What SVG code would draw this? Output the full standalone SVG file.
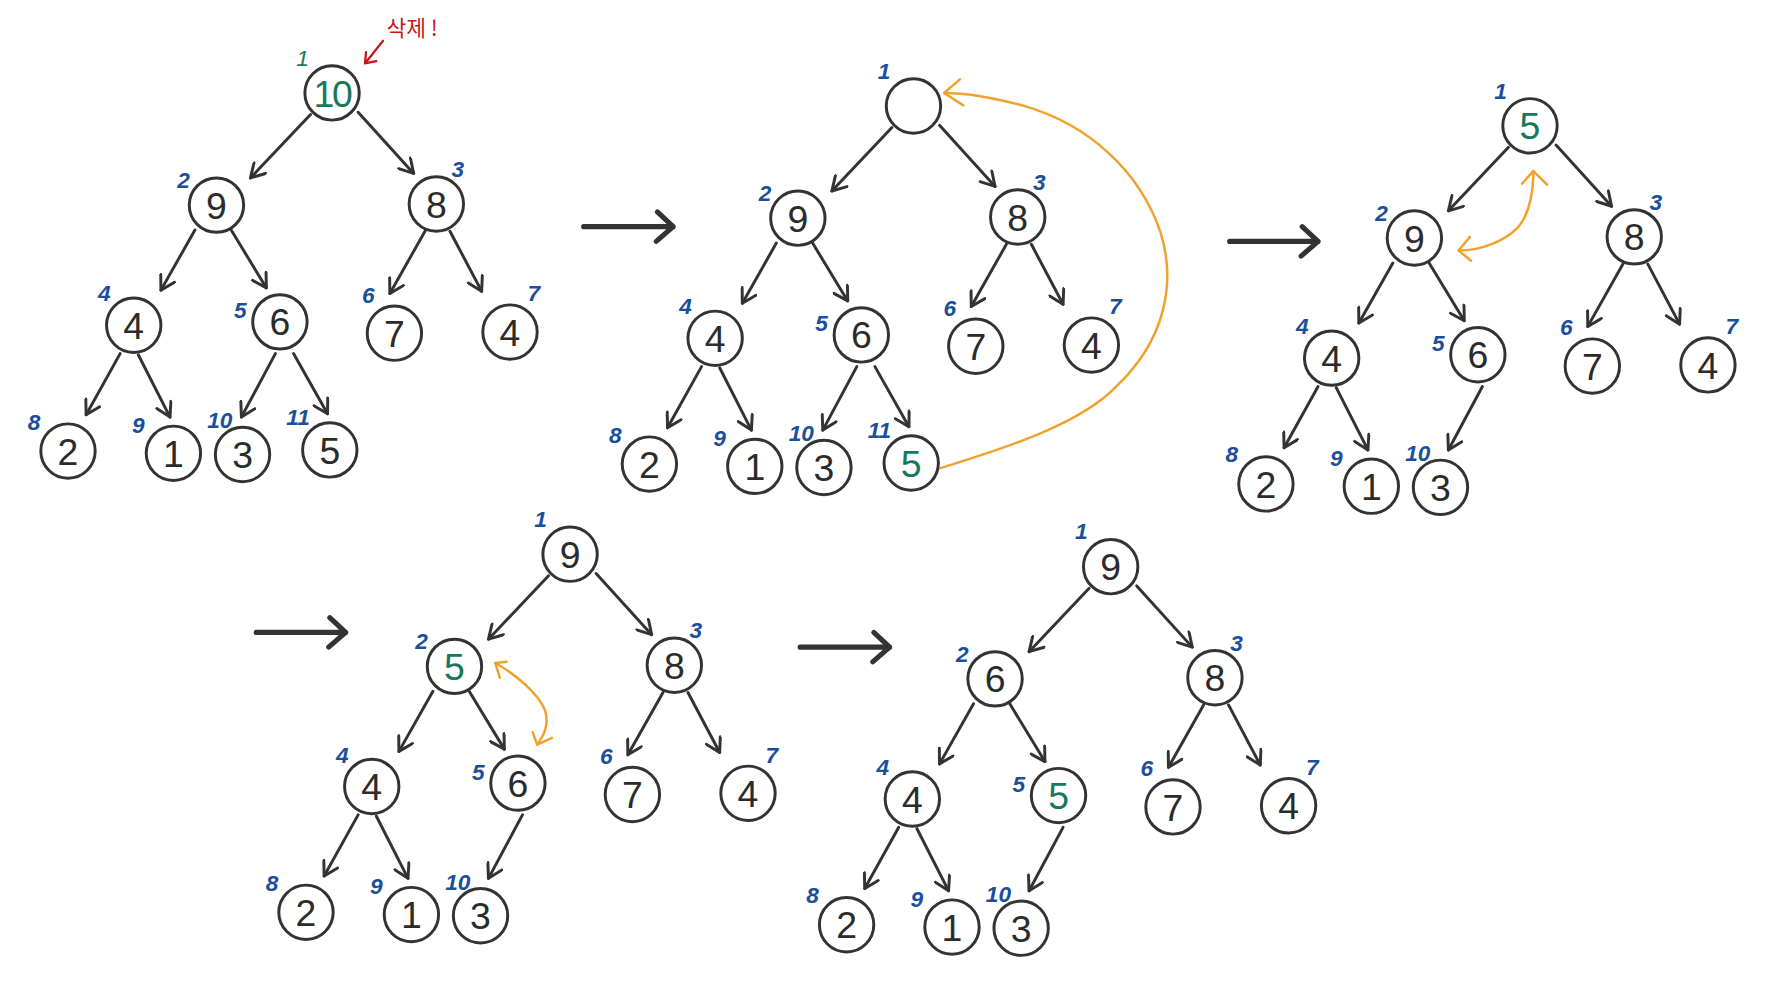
<svg xmlns="http://www.w3.org/2000/svg" width="1768" height="1000" viewBox="0 0 1768 1000">
<defs>
<style>
.nd{fill:#fff;stroke:#333;stroke-width:2.6}
.v{font-family:"Liberation Sans","DejaVu Sans",sans-serif;font-size:33px;fill:#2b2b2b;text-anchor:middle}
.gr{fill:#17785a}
.ix{font-family:"Liberation Sans","DejaVu Sans",sans-serif;font-style:italic;font-weight:bold;font-size:20px;fill:#1b4f9c;text-anchor:middle}
.ixg{fill:#17785a;font-weight:normal}
.e{stroke:#333;stroke-width:2.6;fill:none;marker-end:url(#ah);stroke-linecap:round}
.big{stroke:#333;stroke-width:4.5;fill:none;stroke-linecap:round;stroke-linejoin:round}
.or{stroke:#f0a22e;stroke-width:2.2;fill:none;stroke-linecap:round;stroke-linejoin:round}
.red{stroke:#c8161d;stroke-width:2;fill:none;stroke-linecap:round;stroke-linejoin:round}
</style>
<marker id="ah" viewBox="0 0 16 16" refX="14" refY="8" markerWidth="16" markerHeight="16" orient="auto" markerUnits="userSpaceOnUse">
<path d="M2,1 L14,8 L2,15" fill="none" stroke="#333" stroke-width="2.6" stroke-linecap="round" stroke-linejoin="round"/>
</marker>
</defs>
<rect width="1768" height="1000" fill="#fff"/>
<g transform="scale(1.13333)">
<g id="connectors">
<g id="edges-t1">
<line class="e" x1="274" y1="101" x2="221" y2="157"/>
<line class="e" x1="316" y1="99" x2="365" y2="153"/>
<line class="e" x1="172" y1="203" x2="142" y2="256"/>
<line class="e" x1="204" y1="203" x2="235" y2="254"/>
<line class="e" x1="375" y1="204" x2="344" y2="259"/>
<line class="e" x1="397" y1="204" x2="425" y2="257"/>
<line class="e" x1="106" y1="312" x2="76" y2="366"/>
<line class="e" x1="122" y1="313" x2="150" y2="368"/>
<line class="e" x1="243" y1="312" x2="213" y2="368"/>
<line class="e" x1="259" y1="312" x2="289" y2="365"/>
</g>
<g id="edges-t2" transform="translate(513,11.5)">
<line class="e" x1="274" y1="101" x2="221" y2="157"/>
<line class="e" x1="316" y1="99" x2="365" y2="153"/>
<line class="e" x1="172" y1="203" x2="142" y2="256"/>
<line class="e" x1="204" y1="203" x2="235" y2="254"/>
<line class="e" x1="375" y1="204" x2="344" y2="259"/>
<line class="e" x1="397" y1="204" x2="425" y2="257"/>
<line class="e" x1="106" y1="312" x2="76" y2="366"/>
<line class="e" x1="122" y1="313" x2="150" y2="368"/>
<line class="e" x1="243" y1="312" x2="213" y2="368"/>
<line class="e" x1="259" y1="312" x2="289" y2="365"/>
</g>
<g id="edges-t3" transform="translate(1057,29)">
<line class="e" x1="274" y1="101" x2="221" y2="157"/>
<line class="e" x1="316" y1="99" x2="365" y2="153"/>
<line class="e" x1="172" y1="203" x2="142" y2="256"/>
<line class="e" x1="204" y1="203" x2="235" y2="254"/>
<line class="e" x1="375" y1="204" x2="344" y2="259"/>
<line class="e" x1="397" y1="204" x2="425" y2="257"/>
<line class="e" x1="106" y1="312" x2="76" y2="366"/>
<line class="e" x1="122" y1="313" x2="150" y2="368"/>
<line class="e" x1="251" y1="312" x2="221" y2="368"/>
</g>
<g id="edges-t4" transform="translate(210,407)">
<line class="e" x1="274" y1="101" x2="221" y2="157"/>
<line class="e" x1="316" y1="99" x2="365" y2="153"/>
<line class="e" x1="172" y1="203" x2="142" y2="256"/>
<line class="e" x1="204" y1="203" x2="235" y2="254"/>
<line class="e" x1="375" y1="204" x2="344" y2="259"/>
<line class="e" x1="397" y1="204" x2="425" y2="257"/>
<line class="e" x1="106" y1="312" x2="76" y2="366"/>
<line class="e" x1="122" y1="313" x2="150" y2="368"/>
<line class="e" x1="251" y1="312" x2="221" y2="368"/>
</g>
<g id="edges-t5" transform="translate(687,418)">
<line class="e" x1="274" y1="101" x2="221" y2="157"/>
<line class="e" x1="316" y1="99" x2="365" y2="153"/>
<line class="e" x1="172" y1="203" x2="142" y2="256"/>
<line class="e" x1="204" y1="203" x2="235" y2="254"/>
<line class="e" x1="375" y1="204" x2="344" y2="259"/>
<line class="e" x1="397" y1="204" x2="425" y2="257"/>
<line class="e" x1="106" y1="312" x2="76" y2="366"/>
<line class="e" x1="122" y1="313" x2="150" y2="368"/>
<line class="e" x1="251" y1="312" x2="221" y2="368"/>
</g>
<g id="step-arrows">
<path class="big" d="M515,200 H594 M580,187 L594,200 L579,213"/>
<path class="big" d="M1085,213 H1163 M1149,200 L1163,213 L1148,226"/>
<path class="big" d="M226,558 H305 M291,545 L305,558 L290,571"/>
<path class="big" d="M706,571 H785 M771,558 L785,571 L770,584"/>
</g>
<g id="swap-arrows">
<path class="or" d="M830,413 C870,400 950,378 985,341 C1028,300 1038,250 1024,205 C1006,152 962,110 902,93 C872,85 848,82 833,82"/>
<path class="or" d="M847,70 L833,82 L850,93"/>
<path class="or" d="M1287,221 C1308,221 1328,212 1339,201 C1350,189 1353,167 1353,151"/>
<path class="or" d="M1343,162 L1353,151 L1365,163 M1297,209 L1287,221 L1298,230"/>
<path class="or" d="M437,585 C455,595 475,612 481,627 C485,640 479,650 474,657"/>
<path class="or" d="M447,584 L437,585 L441,598 M470,646 L474,657 L487,651"/>
</g>
<g id="delete-note-arrow">
<path class="red" d="M338,36 L322,56 M323,46 L322,56 L332,54"/>
</g>
</g>

<g id="tree1">
<g id="t1n1"><circle class="nd" cx="293" cy="82" r="24"/><text class="v gr" x="293" y="94" style="letter-spacing:-2px">10</text><text class="ix ixg" x="267" y="58">1</text></g>
<g id="t1n2"><circle class="nd" cx="191" cy="181" r="24"/><text class="v" x="191" y="193">9</text><text class="ix" x="162" y="166">2</text></g>
<g id="t1n3"><circle class="nd" cx="385" cy="180" r="24"/><text class="v" x="385" y="192">8</text><text class="ix" x="404" y="156">3</text></g>
<g id="t1n4"><circle class="nd" cx="118" cy="287" r="24"/><text class="v" x="118" y="299">4</text><text class="ix" x="92" y="266">4</text></g>
<g id="t1n5"><circle class="nd" cx="247" cy="284" r="24"/><text class="v" x="247" y="296">6</text><text class="ix" x="212" y="281">5</text></g>
<g id="t1n6"><circle class="nd" cx="348" cy="294" r="24"/><text class="v" x="348" y="306">7</text><text class="ix" x="325" y="267">6</text></g>
<g id="t1n7"><circle class="nd" cx="450" cy="293" r="24"/><text class="v" x="450" y="305">4</text><text class="ix" x="471" y="266">7</text></g>
<g id="t1n8"><circle class="nd" cx="60" cy="398" r="24"/><text class="v" x="60" y="410">2</text><text class="ix" x="30" y="379">8</text></g>
<g id="t1n9"><circle class="nd" cx="153" cy="400" r="24"/><text class="v" x="153" y="412">1</text><text class="ix" x="122" y="382">9</text></g>
<g id="t1n10"><circle class="nd" cx="214" cy="401" r="24"/><text class="v" x="214" y="413">3</text><text class="ix" x="194" y="378">10</text></g>
<g id="t1n11"><circle class="nd" cx="291" cy="397" r="24"/><text class="v" x="291" y="409">5</text><text class="ix" x="263" y="375">11</text></g>
<text id="delete-note" x="341" y="32" style="font-family:'Noto Sans CJK KR','Noto Sans',sans-serif;font-size:19px;fill:#c8161d">삭제 !</text>
</g>

<g id="tree2" transform="translate(513,11.5)">
<g id="t2n1"><circle class="nd" cx="293" cy="82" r="24"/><text class="ix" x="267" y="58">1</text></g>
<g id="t2n2"><circle class="nd" cx="191" cy="181" r="24"/><text class="v" x="191" y="193">9</text><text class="ix" x="162" y="166">2</text></g>
<g id="t2n3"><circle class="nd" cx="385" cy="180" r="24"/><text class="v" x="385" y="192">8</text><text class="ix" x="404" y="156">3</text></g>
<g id="t2n4"><circle class="nd" cx="118" cy="287" r="24"/><text class="v" x="118" y="299">4</text><text class="ix" x="92" y="266">4</text></g>
<g id="t2n5"><circle class="nd" cx="247" cy="284" r="24"/><text class="v" x="247" y="296">6</text><text class="ix" x="212" y="281">5</text></g>
<g id="t2n6"><circle class="nd" cx="348" cy="294" r="24"/><text class="v" x="348" y="306">7</text><text class="ix" x="325" y="267">6</text></g>
<g id="t2n7"><circle class="nd" cx="450" cy="293" r="24"/><text class="v" x="450" y="305">4</text><text class="ix" x="471" y="266">7</text></g>
<g id="t2n8"><circle class="nd" cx="60" cy="398" r="24"/><text class="v" x="60" y="410">2</text><text class="ix" x="30" y="379">8</text></g>
<g id="t2n9"><circle class="nd" cx="153" cy="400" r="24"/><text class="v" x="153" y="412">1</text><text class="ix" x="122" y="382">9</text></g>
<g id="t2n10"><circle class="nd" cx="214" cy="401" r="24"/><text class="v" x="214" y="413">3</text><text class="ix" x="194" y="378">10</text></g>
<g id="t2n11"><circle class="nd" cx="291" cy="397" r="24"/><text class="v gr" x="291" y="409">5</text><text class="ix" x="263" y="375">11</text></g>
</g>

<g id="tree3" transform="translate(1057,29)">
<g id="t3n1"><circle class="nd" cx="293" cy="82" r="24"/><text class="v gr" x="293" y="94">5</text><text class="ix" x="267" y="58">1</text></g>
<g id="t3n2"><circle class="nd" cx="191" cy="181" r="24"/><text class="v" x="191" y="193">9</text><text class="ix" x="162" y="166">2</text></g>
<g id="t3n3"><circle class="nd" cx="385" cy="180" r="24"/><text class="v" x="385" y="192">8</text><text class="ix" x="404" y="156">3</text></g>
<g id="t3n4"><circle class="nd" cx="118" cy="287" r="24"/><text class="v" x="118" y="299">4</text><text class="ix" x="92" y="266">4</text></g>
<g id="t3n5"><circle class="nd" cx="247" cy="284" r="24"/><text class="v" x="247" y="296">6</text><text class="ix" x="212" y="281">5</text></g>
<g id="t3n6"><circle class="nd" cx="348" cy="294" r="24"/><text class="v" x="348" y="306">7</text><text class="ix" x="325" y="267">6</text></g>
<g id="t3n7"><circle class="nd" cx="450" cy="293" r="24"/><text class="v" x="450" y="305">4</text><text class="ix" x="471" y="266">7</text></g>
<g id="t3n8"><circle class="nd" cx="60" cy="398" r="24"/><text class="v" x="60" y="410">2</text><text class="ix" x="30" y="379">8</text></g>
<g id="t3n9"><circle class="nd" cx="153" cy="400" r="24"/><text class="v" x="153" y="412">1</text><text class="ix" x="122" y="382">9</text></g>
<g id="t3n10"><circle class="nd" cx="214" cy="401" r="24"/><text class="v" x="214" y="413">3</text><text class="ix" x="194" y="378">10</text></g>
</g>

<g id="tree4" transform="translate(210,407)">
<g id="t4n1"><circle class="nd" cx="293" cy="82" r="24"/><text class="v" x="293" y="94">9</text><text class="ix" x="267" y="58">1</text></g>
<g id="t4n2"><circle class="nd" cx="191" cy="181" r="24"/><text class="v gr" x="191" y="193">5</text><text class="ix" x="162" y="166">2</text></g>
<g id="t4n3"><circle class="nd" cx="385" cy="180" r="24"/><text class="v" x="385" y="192">8</text><text class="ix" x="404" y="156">3</text></g>
<g id="t4n4"><circle class="nd" cx="118" cy="287" r="24"/><text class="v" x="118" y="299">4</text><text class="ix" x="92" y="266">4</text></g>
<g id="t4n5"><circle class="nd" cx="247" cy="284" r="24"/><text class="v" x="247" y="296">6</text><text class="ix" x="212" y="281">5</text></g>
<g id="t4n6"><circle class="nd" cx="348" cy="294" r="24"/><text class="v" x="348" y="306">7</text><text class="ix" x="325" y="267">6</text></g>
<g id="t4n7"><circle class="nd" cx="450" cy="293" r="24"/><text class="v" x="450" y="305">4</text><text class="ix" x="471" y="266">7</text></g>
<g id="t4n8"><circle class="nd" cx="60" cy="398" r="24"/><text class="v" x="60" y="410">2</text><text class="ix" x="30" y="379">8</text></g>
<g id="t4n9"><circle class="nd" cx="153" cy="400" r="24"/><text class="v" x="153" y="412">1</text><text class="ix" x="122" y="382">9</text></g>
<g id="t4n10"><circle class="nd" cx="214" cy="401" r="24"/><text class="v" x="214" y="413">3</text><text class="ix" x="194" y="378">10</text></g>
</g>

<g id="tree5" transform="translate(687,418)">
<g id="t5n1"><circle class="nd" cx="293" cy="82" r="24"/><text class="v" x="293" y="94">9</text><text class="ix" x="267" y="58">1</text></g>
<g id="t5n2"><circle class="nd" cx="191" cy="181" r="24"/><text class="v" x="191" y="193">6</text><text class="ix" x="162" y="166">2</text></g>
<g id="t5n3"><circle class="nd" cx="385" cy="180" r="24"/><text class="v" x="385" y="192">8</text><text class="ix" x="404" y="156">3</text></g>
<g id="t5n4"><circle class="nd" cx="118" cy="287" r="24"/><text class="v" x="118" y="299">4</text><text class="ix" x="92" y="266">4</text></g>
<g id="t5n5"><circle class="nd" cx="247" cy="284" r="24"/><text class="v gr" x="247" y="296">5</text><text class="ix" x="212" y="281">5</text></g>
<g id="t5n6"><circle class="nd" cx="348" cy="294" r="24"/><text class="v" x="348" y="306">7</text><text class="ix" x="325" y="267">6</text></g>
<g id="t5n7"><circle class="nd" cx="450" cy="293" r="24"/><text class="v" x="450" y="305">4</text><text class="ix" x="471" y="266">7</text></g>
<g id="t5n8"><circle class="nd" cx="60" cy="398" r="24"/><text class="v" x="60" y="410">2</text><text class="ix" x="30" y="379">8</text></g>
<g id="t5n9"><circle class="nd" cx="153" cy="400" r="24"/><text class="v" x="153" y="412">1</text><text class="ix" x="122" y="382">9</text></g>
<g id="t5n10"><circle class="nd" cx="214" cy="401" r="24"/><text class="v" x="214" y="413">3</text><text class="ix" x="194" y="378">10</text></g>
</g>
</g>
</svg>
